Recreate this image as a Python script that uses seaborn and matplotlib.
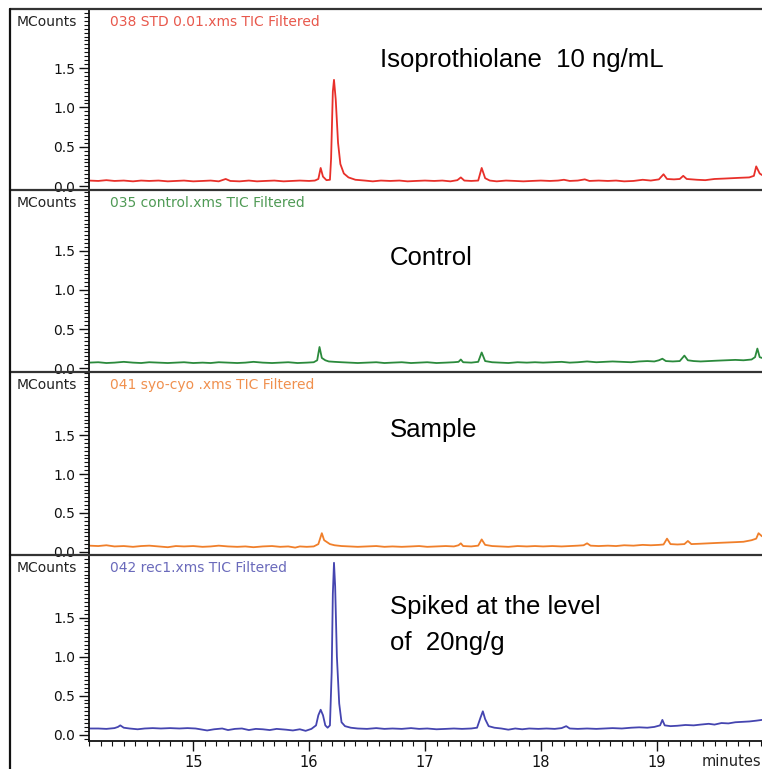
import matplotlib
matplotlib.use("Agg")
import matplotlib.pyplot as plt
from matplotlib.lines import Line2D
from matplotlib.ticker import FixedLocator, MultipleLocator
import seaborn as sns

sns.set_style("white")
plt.rcParams['font.family'] = ['Liberation Sans', 'DejaVu Sans']

# ---- chromatogram traces (minutes, MCounts) ----
std_t = [14.10, 14.18, 14.25, 14.32, 14.40, 14.48, 14.55, 14.62, 14.70, 14.78, 14.85, 14.92,
         15.00, 15.08, 15.15, 15.22, 15.28, 15.32, 15.40, 15.48, 15.55, 15.62, 15.70, 15.78,
         15.85, 15.92, 16.00, 16.05, 16.08, 16.10, 16.12, 16.15, 16.18, 16.19, 16.205, 16.215,
         16.23, 16.25, 16.27, 16.30, 16.34, 16.40, 16.48, 16.55, 16.62, 16.70, 16.78, 16.85,
         16.92, 17.00, 17.08, 17.15, 17.22, 17.28, 17.31, 17.34, 17.40, 17.46, 17.49, 17.52,
         17.56, 17.62, 17.70, 17.78, 17.85, 17.92, 18.00, 18.08, 18.15, 18.20, 18.25, 18.32,
         18.38, 18.42, 18.50, 18.58, 18.65, 18.72, 18.80, 18.88, 18.95, 19.02, 19.06, 19.09,
         19.15, 19.20, 19.23, 19.26, 19.35, 19.42, 19.50, 19.58, 19.65, 19.72, 19.80, 19.84,
         19.86, 19.89, 19.91]
std_v = [0.07, 0.065, 0.075, 0.065, 0.07, 0.06, 0.07, 0.065, 0.07, 0.06, 0.065, 0.07,
         0.06, 0.065, 0.07, 0.06, 0.09, 0.065, 0.06, 0.07, 0.06, 0.065, 0.07, 0.06,
         0.065, 0.07, 0.065, 0.07, 0.09, 0.23, 0.12, 0.075, 0.08, 0.35, 1.2, 1.35,
         1.1, 0.55, 0.28, 0.16, 0.11, 0.08, 0.07, 0.06, 0.07, 0.065, 0.07, 0.06,
         0.065, 0.07, 0.065, 0.07, 0.06, 0.075, 0.11, 0.07, 0.065, 0.07, 0.23, 0.10,
         0.07, 0.06, 0.07, 0.065, 0.06, 0.065, 0.07, 0.065, 0.07, 0.08, 0.065, 0.07,
         0.085, 0.065, 0.07, 0.065, 0.07, 0.06, 0.065, 0.08, 0.07, 0.085, 0.15, 0.09,
         0.085, 0.09, 0.13, 0.09, 0.08, 0.075, 0.09, 0.095, 0.10, 0.105, 0.11, 0.13,
         0.25, 0.16, 0.14]

ctl_t = [14.10, 14.18, 14.25, 14.32, 14.40, 14.48, 14.55, 14.62, 14.70, 14.78, 14.85, 14.92,
         15.00, 15.08, 15.15, 15.22, 15.30, 15.38, 15.45, 15.52, 15.60, 15.68, 15.75, 15.82,
         15.90, 15.98, 16.04, 16.07, 16.09, 16.11, 16.14, 16.17, 16.22, 16.28, 16.35, 16.42,
         16.50, 16.58, 16.65, 16.72, 16.80, 16.88, 16.95, 17.02, 17.10, 17.18, 17.25, 17.29,
         17.31, 17.33, 17.40, 17.46, 17.49, 17.52, 17.58, 17.65, 17.72, 17.80, 17.88, 17.95,
         18.02, 18.10, 18.18, 18.25, 18.32, 18.40, 18.48, 18.55, 18.62, 18.70, 18.78, 18.85,
         18.92, 18.98, 19.02, 19.05, 19.08, 19.14, 19.20, 19.24, 19.27, 19.32, 19.38, 19.45,
         19.52, 19.60, 19.68, 19.75, 19.82, 19.85, 19.87, 19.89, 19.91]
ctl_v = [0.07, 0.075, 0.065, 0.07, 0.08, 0.07, 0.065, 0.075, 0.07, 0.065, 0.07, 0.075,
         0.065, 0.07, 0.065, 0.075, 0.07, 0.065, 0.07, 0.08, 0.07, 0.065, 0.07, 0.075,
         0.065, 0.07, 0.075, 0.10, 0.27, 0.13, 0.10, 0.085, 0.08, 0.075, 0.07, 0.065,
         0.07, 0.075, 0.065, 0.07, 0.075, 0.065, 0.07, 0.075, 0.065, 0.07, 0.075, 0.08,
         0.11, 0.075, 0.07, 0.08, 0.20, 0.09, 0.075, 0.07, 0.065, 0.075, 0.07, 0.075,
         0.07, 0.075, 0.08, 0.07, 0.075, 0.085, 0.075, 0.08, 0.085, 0.08, 0.075, 0.085,
         0.09, 0.085, 0.10, 0.12, 0.09, 0.085, 0.09, 0.16, 0.10, 0.09, 0.085, 0.09,
         0.095, 0.10, 0.105, 0.10, 0.11, 0.14, 0.25, 0.14, 0.13]

smp_t = [14.10, 14.18, 14.25, 14.32, 14.40, 14.48, 14.55, 14.62, 14.70, 14.78, 14.85, 14.92,
         15.00, 15.08, 15.15, 15.22, 15.30, 15.38, 15.45, 15.52, 15.60, 15.68, 15.75, 15.82,
         15.88, 15.92, 15.98, 16.04, 16.08, 16.11, 16.13, 16.15, 16.18, 16.22, 16.28, 16.35,
         16.42, 16.50, 16.58, 16.65, 16.72, 16.80, 16.88, 16.95, 17.02, 17.10, 17.18, 17.25,
         17.29, 17.31, 17.33, 17.40, 17.46, 17.49, 17.52, 17.58, 17.65, 17.72, 17.80, 17.88,
         17.95, 18.02, 18.10, 18.18, 18.25, 18.32, 18.37, 18.40, 18.43, 18.50, 18.58, 18.65,
         18.72, 18.80, 18.88, 18.95, 19.02, 19.06, 19.09, 19.12, 19.18, 19.24, 19.27, 19.30,
         19.38, 19.45, 19.52, 19.60, 19.68, 19.75, 19.82, 19.86, 19.88, 19.91]
smp_v = [0.08, 0.075, 0.085, 0.07, 0.075, 0.065, 0.075, 0.08, 0.07, 0.06, 0.075, 0.07,
         0.075, 0.065, 0.07, 0.08, 0.07, 0.065, 0.07, 0.06, 0.07, 0.075, 0.065, 0.07,
         0.055, 0.07, 0.065, 0.07, 0.10, 0.24, 0.15, 0.13, 0.10, 0.085, 0.075, 0.07,
         0.065, 0.07, 0.075, 0.065, 0.07, 0.065, 0.07, 0.075, 0.065, 0.07, 0.075, 0.07,
         0.085, 0.11, 0.075, 0.07, 0.08, 0.16, 0.09, 0.075, 0.07, 0.065, 0.075, 0.07,
         0.075, 0.07, 0.075, 0.07, 0.075, 0.08, 0.085, 0.11, 0.08, 0.075, 0.08, 0.075,
         0.085, 0.08, 0.09, 0.085, 0.09, 0.095, 0.17, 0.10, 0.095, 0.10, 0.14, 0.10,
         0.105, 0.11, 0.115, 0.12, 0.125, 0.13, 0.15, 0.17, 0.24, 0.20]

spk_t = [14.10, 14.18, 14.25, 14.32, 14.35, 14.37, 14.40, 14.45, 14.52, 14.58, 14.65, 14.72,
         14.80, 14.88, 14.95, 15.02, 15.08, 15.12, 15.18, 15.25, 15.30, 15.36, 15.42, 15.48,
         15.54, 15.60, 15.66, 15.72, 15.80, 15.86, 15.92, 15.97, 16.02, 16.06, 16.08, 16.10,
         16.12, 16.14, 16.16, 16.18, 16.195, 16.205, 16.215, 16.225, 16.24, 16.26, 16.28, 16.31,
         16.36, 16.42, 16.50, 16.58, 16.65, 16.72, 16.80, 16.88, 16.95, 17.02, 17.10, 17.18,
         17.25, 17.32, 17.40, 17.45, 17.48, 17.50, 17.52, 17.55, 17.60, 17.66, 17.72, 17.78,
         17.84, 17.90, 17.98, 18.05, 18.12, 18.18, 18.22, 18.25, 18.32, 18.40, 18.48, 18.55,
         18.62, 18.70, 18.78, 18.85, 18.92, 18.98, 19.03, 19.05, 19.07, 19.12, 19.18, 19.25,
         19.32, 19.38, 19.45, 19.50, 19.56, 19.62, 19.68, 19.74, 19.80, 19.86, 19.91]
spk_v = [0.08, 0.08, 0.075, 0.085, 0.10, 0.12, 0.09, 0.08, 0.07, 0.08, 0.085, 0.08,
         0.085, 0.08, 0.085, 0.08, 0.065, 0.055, 0.07, 0.08, 0.06, 0.075, 0.08, 0.06,
         0.075, 0.07, 0.06, 0.075, 0.065, 0.055, 0.07, 0.05, 0.075, 0.12, 0.25, 0.32,
         0.25, 0.12, 0.09, 0.12, 0.8, 1.8, 2.2, 1.9, 1.0, 0.4, 0.16, 0.11,
         0.09, 0.08, 0.075, 0.085, 0.075, 0.08, 0.075, 0.085, 0.075, 0.08, 0.07, 0.075,
         0.08, 0.075, 0.08, 0.09, 0.22, 0.30, 0.20, 0.11, 0.09, 0.08, 0.065, 0.08,
         0.07, 0.08, 0.075, 0.08, 0.075, 0.085, 0.11, 0.08, 0.075, 0.08, 0.075, 0.08,
         0.085, 0.08, 0.09, 0.095, 0.09, 0.10, 0.12, 0.19, 0.12, 0.11, 0.115, 0.125,
         0.12, 0.13, 0.14, 0.13, 0.15, 0.145, 0.16, 0.165, 0.17, 0.18, 0.19]

traces = [(std_t, std_v), (ctl_t, ctl_v), (smp_t, smp_v), (spk_t, spk_v)]
headers = ["038 STD 0.01.xms TIC Filtered", "035 control.xms TIC Filtered",
           "041 syo-cyo .xms TIC Filtered", "042 rec1.xms TIC Filtered"]
line_colors = ["#e8302a", "#2b8a3c", "#f07f2a", "#4545b0"]
header_colors = ["#e8584c", "#4f9a55", "#f0904e", "#6a6abb"]
y_ticks = [0.0, 0.5, 1.0, 1.5]
y_tick_labels = ["0.0", "0.5", "1.0", "1.5"]
x_ticks = [15, 16, 17, 18, 19]
notes = [["Isoprothiolane  10 ng/mL"], ["Control"], ["Sample"],
         ["Spiked at the level", "of  20ng/g"]]

W, H = 762, 769
fig = plt.figure(figsize=(W / 100, H / 100), dpi=100)

# panel edges in pixels (top, bottom) and y-limits
panels = [(9, 190), (190, 372), (372, 555), (555, 741)]
ylims = [(-0.05, 2.25), (-0.05, 2.28), (-0.04, 2.31), (-0.08, 2.30)]
note_pos = [(380, 60), (390, 258), (390, 430), (390, 607)]

for i, (t, v) in enumerate(traces):
    top, bot = panels[i]
    ax = fig.add_axes([89 / W, 1 - bot / H, (W - 89) / W, (bot - top) / H])
    sns.lineplot(x=t, y=v, color=line_colors[i], linewidth=1.3,
                 estimator=None, ax=ax)
    ax.set_xlim(14.10, 19.91)
    ax.set_ylim(*ylims[i])
    ax.patch.set_alpha(0)
    for s in ["top", "right", "bottom"]:
        ax.spines[s].set_visible(False)
    ax.spines["left"].set_color("#111111")
    ax.spines["left"].set_linewidth(1.3)

    ax.yaxis.set_major_locator(FixedLocator(y_ticks))
    ax.set_yticklabels(y_tick_labels, family="DejaVu Sans")
    ax.yaxis.set_minor_locator(MultipleLocator(0.05))
    ax.tick_params(axis="y", which="major", direction="out", length=7, width=1,
                   labelsize=10, pad=3, left=True, colors="#111111")
    ax.tick_params(axis="y", which="minor", direction="out", length=3.5,
                   width=0.8, left=True, colors="#111111")

    if i == 3:
        ax.spines["bottom"].set_visible(True)
        ax.spines["bottom"].set_color("#111111")
        ax.spines["bottom"].set_linewidth(1.3)
        ax.set_xticks(x_ticks)
        ax.set_xticklabels([str(x) for x in x_ticks], family="DejaVu Sans")
        ax.xaxis.set_minor_locator(MultipleLocator(0.1))
        ax.tick_params(axis="x", which="major", direction="out", length=7,
                       width=1, labelsize=10.5, pad=3, bottom=True, colors="#111111")
        ax.tick_params(axis="x", which="minor", direction="out", length=3.5,
                       width=0.8, bottom=True, colors="#111111")
    else:
        ax.set_xticks([])
    ax.set_xlabel("")
    ax.set_ylabel("")

    # header line of each trace
    fig.text(17 / W, 1 - (top + 13) / H, "MCounts", fontsize=10,
             family="DejaVu Sans", color="#222222", va="center", ha="left")
    fig.text(110 / W, 1 - (top + 13) / H, headers[i], fontsize=10,
             family="DejaVu Sans", color=header_colors[i], va="center", ha="left")

    # annotation
    nx, ny = note_pos[i]
    for k, line in enumerate(notes[i]):
        fig.text(nx / W, 1 - (ny + 36 * k) / H, line, fontsize=18.5,
                 color="black", va="center", ha="left")

# frame lines
for y in [9, 190, 372, 555]:
    fig.add_artist(Line2D([10 / W, 1], [1 - y / H, 1 - y / H], color="#333333",
                          linewidth=1.6))
fig.add_artist(Line2D([10 / W, 10 / W], [1 - 9 / H, 0], color="#111111",
                      linewidth=1.6))

fig.text(1 - 1 / W, 1 - 762 / H, "minutes", fontsize=10.5, family="DejaVu Sans",
         color="#222222", ha="right", va="center")

fig.savefig("out.png", dpi=100)
